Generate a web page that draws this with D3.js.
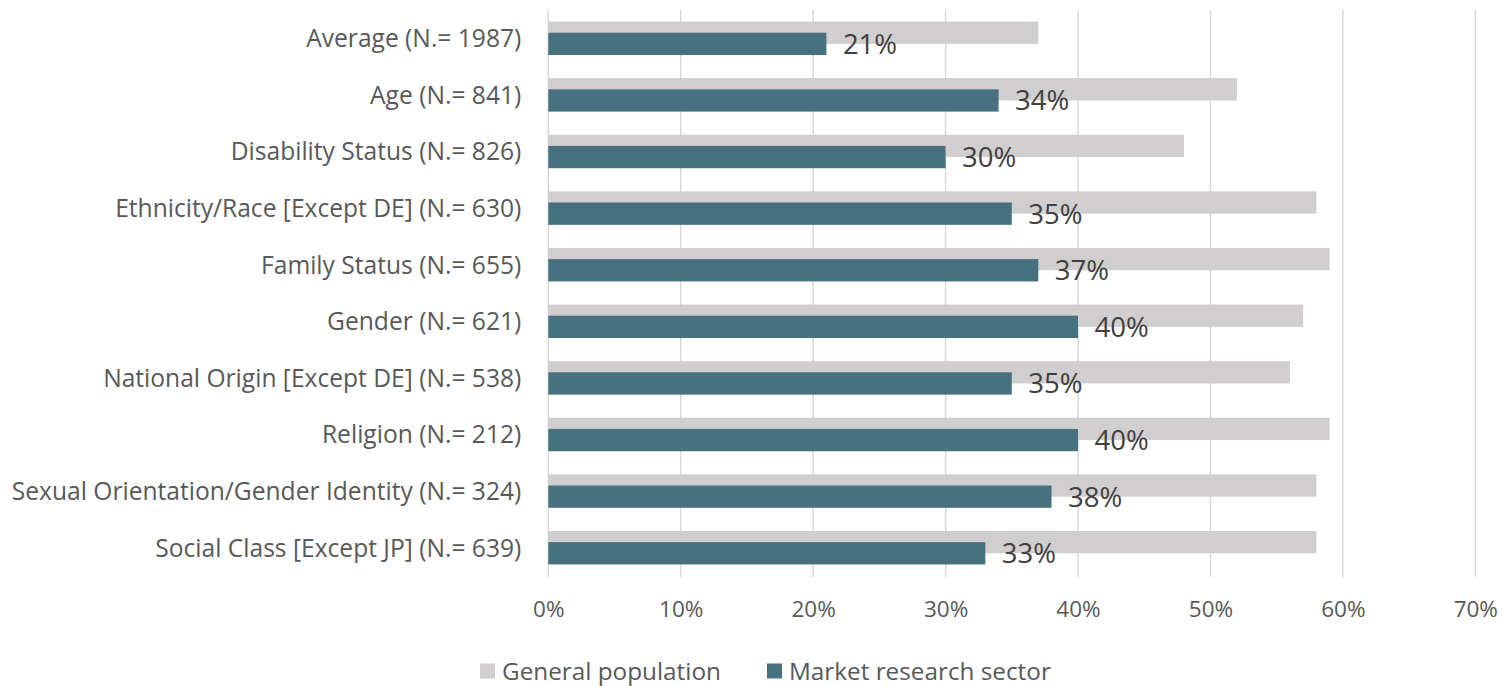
<!DOCTYPE html>
<html>
<head>
<meta charset="utf-8">
<script src="https://cdn.jsdelivr.net/npm/d3@7"></script>
<style>
  body { margin: 0; background: #fff; }
  text { font-family: "Open Sans", sans-serif; }
</style>
</head>
<body>
<div id="chart"></div>
<script>
// Categories, top to bottom
var categories = [
    "Average (N.= 1987)",
    "Age (N.= 841)",
    "Disability Status (N.= 826)",
    "Ethnicity/Race [Except DE] (N.= 630)",
    "Family Status (N.= 655)",
    "Gender (N.= 621)",
    "National Origin [Except DE] (N.= 538)",
    "Religion (N.= 212)",
    "Sexual Orientation/Gender Identity (N.= 324)",
    "Social Class [Except JP] (N.= 639)"
];

// Series values in percent
var generalPopulation = [37, 52, 48, 58, 59, 57, 56, 59, 58, 58];
var marketResearch = [21, 34, 30, 35, 37, 40, 35, 40, 38, 33];

var seriesNames = ["General population", "Market research sector"];
var tickValues = [0, 10, 20, 30, 40, 50, 60, 70];

var width = 1503, height = 686;
var plotLeft = 548.3, plotRight = 1475.3, plotTop = 10, plotBottom = 576;

var svg = d3.select("#chart")
            .append("svg")
            .attr("width", width)
            .attr("height", height);

// Scales
var xScale = d3.scaleLinear()
               .domain([0, 70])
               .range([plotLeft, plotRight]);

var yScale = d3.scaleBand()
               .domain(categories)
               .range([plotTop, plotBottom]);

var barH = 22.3;
var padTop = (yScale.bandwidth() - barH * 1.5) / 2;

// Gridlines
svg.append("g")
   .selectAll("line")
   .data(tickValues)
   .enter()
   .append("line")
   .attr("x1", function(d) { return xScale(d); })
   .attr("x2", function(d) { return xScale(d); })
   .attr("y1", plotTop)
   .attr("y2", plotBottom + 1)
   .attr("stroke", "#d9d9d9")
   .attr("stroke-width", 1.5);

// General population bars (behind)
svg.append("g")
   .selectAll("rect")
   .data(generalPopulation)
   .enter()
   .append("rect")
   .attr("x", xScale(0))
   .attr("y", function(d, i) { return yScale(categories[i]) + padTop; })
   .attr("width", function(d) { return xScale(d) - xScale(0); })
   .attr("height", barH)
   .attr("fill", "#d0cece");

// Market research bars (front)
svg.append("g")
   .selectAll("rect")
   .data(marketResearch)
   .enter()
   .append("rect")
   .attr("x", xScale(0))
   .attr("y", function(d, i) { return yScale(categories[i]) + padTop + barH / 2; })
   .attr("width", function(d) { return xScale(d) - xScale(0); })
   .attr("height", barH)
   .attr("fill", "#48717f");

// Value labels
svg.append("g")
   .selectAll("text")
   .data(marketResearch)
   .enter()
   .append("text")
   .attr("x", function(d) { return xScale(d) + 16.5; })
   .attr("y", function(d, i) { return yScale(categories[i]) + padTop + barH + 10; })
   .attr("font-size", "27.5px")
   .attr("fill", "#404040")
   .text(function(d) { return d + "%"; });

// Category axis
var yAxis = svg.append("g")
   .attr("transform", "translate(" + plotLeft + ",0)")
   .call(d3.axisLeft(yScale).tickSize(0).tickPadding(27));
yAxis.select(".domain").remove();
yAxis.selectAll("text")
     .attr("font-size", "24.6px")
     .attr("font-family", "'Open Sans', sans-serif")
     .attr("fill", "#595959")
     .attr("dy", "0.36em");

// Value axis
var xAxis = svg.append("g")
   .attr("transform", "translate(0," + plotBottom + ")")
   .call(d3.axisBottom(xScale).tickValues(tickValues).tickSize(0).tickPadding(25)
           .tickFormat(function(d) { return d + "%"; }));
xAxis.select(".domain").remove();
xAxis.selectAll("text")
     .attr("font-size", "22.5px")
     .attr("font-family", "'Open Sans', sans-serif")
     .attr("fill", "#595959");

// Legend
var legendColors = ["#d0cece", "#48717f"];
var legendX = [480, 767];
var legend = svg.append("g")
   .selectAll("g")
   .data(seriesNames)
   .enter()
   .append("g")
   .attr("transform", function(d, i) { return "translate(" + legendX[i] + ",671)"; });

legend.append("rect")
      .attr("x", 0)
      .attr("y", -7.5)
      .attr("width", 15)
      .attr("height", 15)
      .attr("fill", function(d, i) { return legendColors[i]; });

legend.append("text")
      .attr("x", 22)
      .attr("y", 0)
      .attr("dy", "0.36em")
      .attr("font-size", "24.3px")
      .attr("fill", "#595959")
      .text(function(d) { return d; });
</script>
</body>
</html>
